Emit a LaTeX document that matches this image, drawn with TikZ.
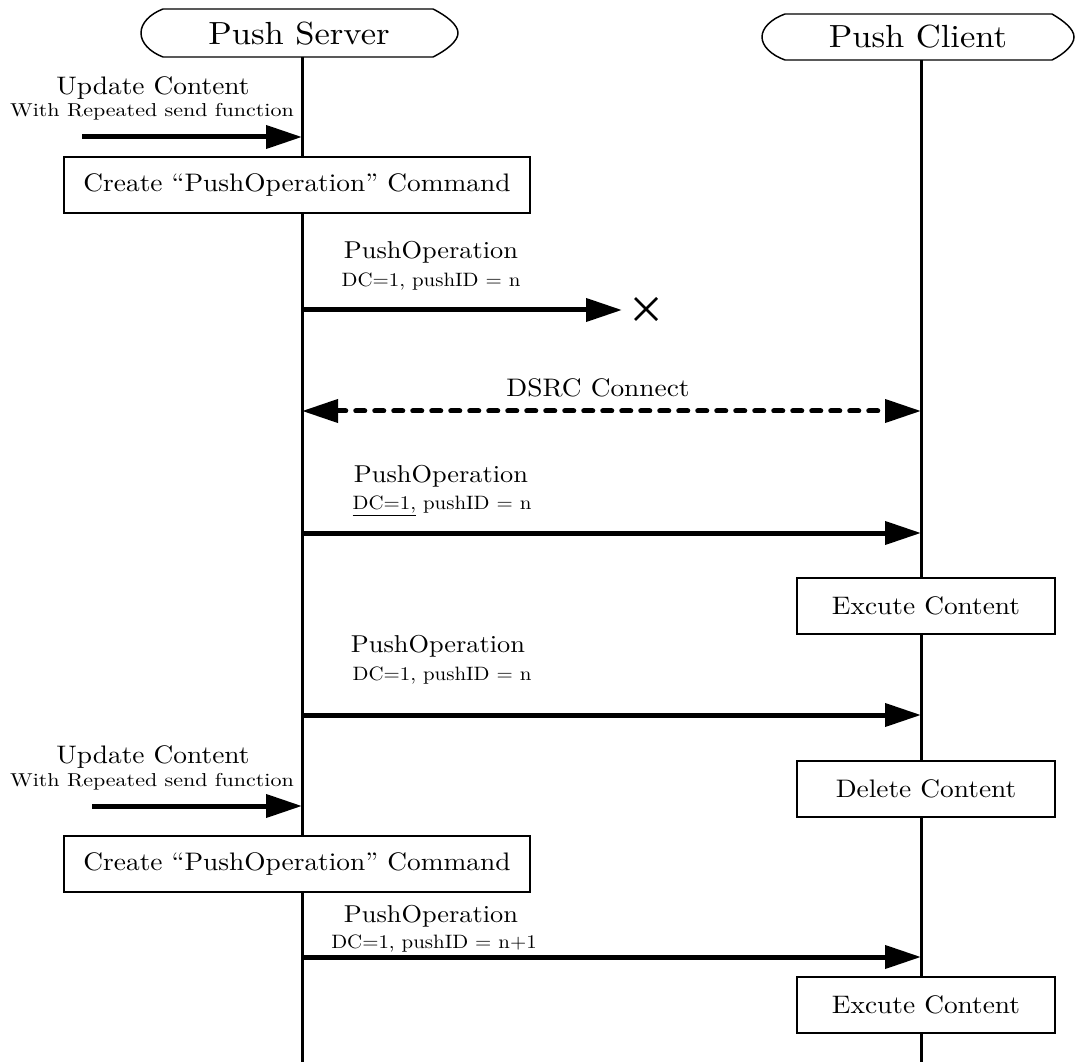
\documentclass[tikz,border=0pt]{standalone}
\usepackage{fontspec}
\setmainfont{lmroman10-regular.otf}[FakeStretch=1.08]
\newfontfamily\widefont{lmroman10-regular.otf}[FakeStretch=1.18]
\usetikzlibrary{arrows.meta,calc}
\begin{document}
\begin{tikzpicture}[x=0.75pt,y=-0.75pt,
  big/.style={font=\fontsize{24}{28}\selectfont},
  boxfont/.style={font=\fontsize{19}{23}\selectfont},
  mid/.style={font=\fontsize{18.3}{22}\selectfont},
  upd/.style={font=\fontsize{19}{23}\selectfont},
  small/.style={font=\fontsize{14.5}{17}\selectfont},
  note/.style={font=\widefont\fontsize{14}{17}\selectfont},
  lifeline/.style={line width=2.25pt},
  header/.style={line width=1.1pt},
  msg/.style={line width=3.75pt,-{Triangle[length=27pt,width=17pt]}},
  dmsg/.style={line width=3.75pt,line cap=round,dash pattern=on 6.75pt off 7.5pt,
    {Triangle[length=27pt,width=17pt]}-{Triangle[length=27pt,width=17pt]}},
  actbox/.style={draw,line width=1.5pt,fill=white,inner sep=0pt,minimum height=42pt,boxfont},
  wide/.style={actbox,minimum width=349.5pt},
  narrow/.style={actbox,minimum width=193.5pt},
  lbl/.style={inner sep=0pt,anchor=base}
]
\useasboundingbox (0,0) rectangle (1075,1062);

% participants
\draw[header] (163,9) -- (433,9) .. controls (447,16) and (458,25) .. (458,33)
  .. controls (458,41) and (447,50) .. (433,57) -- (163,57)
  .. controls (150,52) and (141,43) .. (141,33) .. controls (141,23) and (150,14) .. (163,9) -- cycle;
\node[big,lbl] (srv) at (299,45) {Push Server};
\draw[header] (785,14) -- (1052,14) .. controls (1064,21) and (1074,29) .. (1074,37)
  .. controls (1074,45) and (1064,54) .. (1052,60) -- (785,60)
  .. controls (771,55) and (762,46) .. (762,37) .. controls (762,28) and (771,19) .. (785,14) -- cycle;
\node[big,lbl] (cli) at (918,48) {Push Client};

% lifelines
\coordinate (srvtop) at (302,57);
\coordinate (srvbot) at (302,1062);
\coordinate (clitop) at (921,60);
\coordinate (clibot) at (921,1062);
\draw[lifeline] (srvtop) -- (srvbot);
\draw[lifeline] (clitop) -- (clibot);

% first update request
\node[upd,lbl] (up1) at (153,95) {Update Content};
\node[note,lbl] (rep1) at (152,117) {With Repeated send function};
\coordinate (u1a) at (82,137);
\coordinate (u1b) at (302,137);
\draw[msg] (u1a) -- (u1b);
\node[wide] (create1) at (297,185) {Create “PushOperation” Command};

% lost push
\node[mid,lbl] (po1) at (431,259) {PushOperation};
\node[small,lbl] (dc1) at (431,287) {DC=1, pushID = n};
\coordinate (m1a) at (302,310);
\coordinate (m1b) at (622,310);
\draw[msg] (m1a) -- (m1b);
\coordinate (lost) at (646,309);
\draw[line width=1.9pt] ($(lost)+(-11,-11)$) -- ($(lost)+(11,11)$);
\draw[line width=1.9pt] ($(lost)+(-11,11)$) -- ($(lost)+(11,-11)$);

% connection
\node[upd,lbl] (dsrc) at (598,397) {DSRC Connect};
\coordinate (c1a) at (302,411);
\coordinate (c1b) at (921,411);
\draw[dmsg] (c1a) -- (c1b);

% delivered push
\node[mid,lbl] (po2) at (441,483) {PushOperation};
\node[small,lbl] (dc2) at (442,510) {\underline{DC=1,} pushID = n};
\coordinate (m2a) at (302,533);
\coordinate (m2b) at (921,533);
\draw[msg] (m2a) -- (m2b);
\node[narrow] (exec1) at (926,606) {Excute Content};

% repeated push
\node[mid,lbl] (po3) at (438,652) {PushOperation};
\node[small,lbl] (dc3) at (442,680) {DC=1, pushID = n};
\coordinate (m3a) at (302,715);
\coordinate (m3b) at (921,715);
\draw[msg] (m3a) -- (m3b);

% second update request
\node[upd,lbl] (up2) at (153,763) {Update Content};
\node[note,lbl] (rep2) at (152,786) {With Repeated send function};
\coordinate (u2a) at (92,806);
\coordinate (u2b) at (302,806);
\draw[msg] (u2a) -- (u2b);
\node[narrow] (del) at (926,789) {Delete Content};
\node[wide] (create2) at (297,864) {Create “PushOperation” Command};

% new push
\node[mid,lbl] (po4) at (431,922) {PushOperation};
\node[small,lbl] (dc4) at (434,948) {DC=1, pushID = n+1};
\coordinate (m4a) at (302,957);
\coordinate (m4b) at (921,957);
\draw[msg] (m4a) -- (m4b);
\node[narrow] (exec2) at (926,1005) {Excute Content};
\end{tikzpicture}
\end{document}
